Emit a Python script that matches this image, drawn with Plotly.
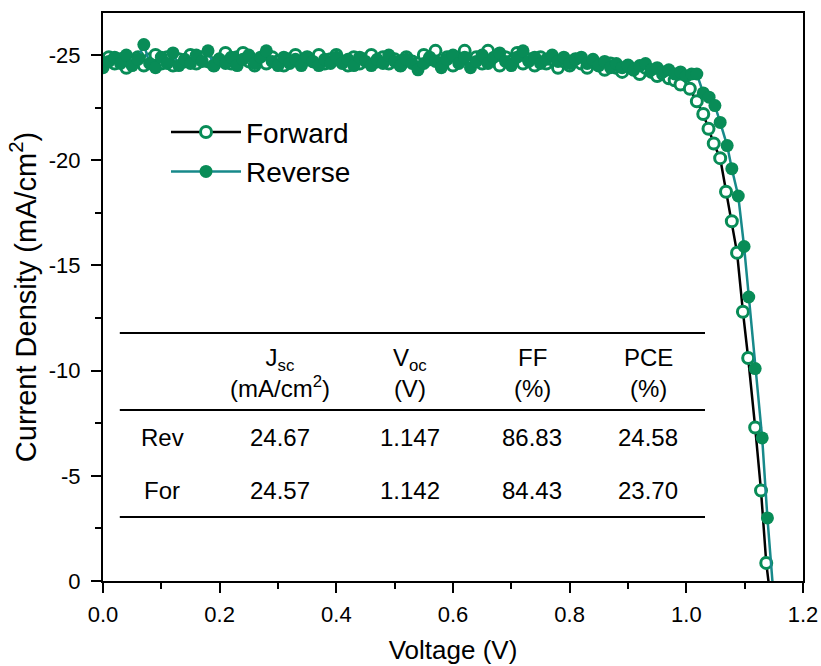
import plotly.graph_objects as go

# ---------------- data ----------------
fwd_v = [0.00, 0.01, 0.02, 0.03, 0.04, 0.05, 0.06, 0.07, 0.08, 0.09,
         0.10, 0.11, 0.12, 0.13, 0.14, 0.15, 0.16, 0.17, 0.18, 0.19,
         0.20, 0.21, 0.22, 0.23, 0.24, 0.25, 0.26, 0.27, 0.28, 0.29,
         0.30, 0.31, 0.32, 0.33, 0.34, 0.35, 0.36, 0.37, 0.38, 0.39,
         0.40, 0.41, 0.42, 0.43, 0.44, 0.45, 0.46, 0.47, 0.48, 0.49,
         0.50, 0.51, 0.52, 0.53, 0.54, 0.55, 0.56, 0.57, 0.58, 0.59,
         0.60, 0.61, 0.62, 0.63, 0.64, 0.65, 0.66, 0.67, 0.68, 0.69,
         0.70, 0.71, 0.72, 0.73, 0.74, 0.75, 0.76, 0.77, 0.78, 0.79,
         0.80, 0.81, 0.82, 0.83, 0.84, 0.85, 0.86, 0.87, 0.88, 0.89,
         0.90, 0.91, 0.92, 0.93, 0.94, 0.95, 0.96, 0.97, 0.98, 0.99,
         1.006, 1.018, 1.029, 1.038, 1.047, 1.058, 1.068, 1.078, 1.087, 1.097,
         1.106, 1.118, 1.128, 1.137, 1.146]
fwd_j = [-24.5, -24.9, -24.6, -24.8, -24.4, -24.7, -24.9, -24.5, -24.8, -25.0,
         -24.6, -24.9, -24.5, -24.8, -24.7, -25.0, -24.6, -24.9, -24.7, -24.5,
         -24.8, -25.1, -24.6, -24.9, -25.1, -24.7, -24.5, -24.8, -24.6, -24.9,
         -24.7, -24.5, -24.8, -25.0, -24.6, -24.9, -24.7, -25.0, -24.6, -24.8,
         -25.0, -24.7, -24.5, -24.9, -24.6, -24.8, -25.0, -24.7, -24.9, -24.6,
         -24.8, -24.5, -24.9, -24.7, -24.6, -25.0, -24.8, -25.2, -24.6, -24.9,
         -24.5, -24.8, -25.2, -24.7, -24.9, -24.6, -25.2, -24.8, -24.5, -24.9,
         -24.7, -25.1, -24.6, -24.8, -24.5, -24.9, -24.6, -24.8, -24.4, -24.7,
         -24.5, -24.8, -24.6, -24.4, -24.7, -24.5, -24.3, -24.6, -24.4, -24.2,
         -24.5, -24.3, -24.1, -24.4, -24.2, -24.0, -24.1, -23.9, -23.8, -23.6,
         -23.4, -22.8, -22.2, -21.5, -20.8, -20.1, -18.5, -17.1, -15.6, -12.8,
         -10.6, -7.3, -4.3, -0.86, 1.2]

rev_v = [0.00, 0.01, 0.02, 0.03, 0.04, 0.05, 0.06, 0.07, 0.08, 0.09,
         0.10, 0.11, 0.12, 0.13, 0.14, 0.15, 0.16, 0.17, 0.18, 0.19,
         0.20, 0.21, 0.22, 0.23, 0.24, 0.25, 0.26, 0.27, 0.28, 0.29,
         0.30, 0.31, 0.32, 0.33, 0.34, 0.35, 0.36, 0.37, 0.38, 0.39,
         0.40, 0.41, 0.42, 0.43, 0.44, 0.45, 0.46, 0.47, 0.48, 0.49,
         0.50, 0.51, 0.52, 0.53, 0.54, 0.55, 0.56, 0.57, 0.58, 0.59,
         0.60, 0.61, 0.62, 0.63, 0.64, 0.65, 0.66, 0.67, 0.68, 0.69,
         0.70, 0.71, 0.72, 0.73, 0.74, 0.75, 0.76, 0.77, 0.78, 0.79,
         0.80, 0.81, 0.82, 0.83, 0.84, 0.85, 0.86, 0.87, 0.88, 0.89,
         0.90, 0.91, 0.92, 0.93, 0.94, 0.95, 0.96, 0.97, 0.98, 0.99,
         1.000, 1.009, 1.018, 1.029, 1.039, 1.049, 1.058, 1.070, 1.078, 1.089,
         1.099, 1.107, 1.118, 1.130, 1.139, 1.151]
rev_j = [-24.4, -24.7, -24.9, -24.6, -25.0, -24.5, -24.8, -25.5, -24.6, -24.4,
         -24.9, -24.6, -25.1, -24.5, -24.8, -24.6, -25.0, -24.7, -25.2, -24.5,
         -24.8, -24.6, -24.9, -24.5, -24.8, -25.0, -24.6, -24.9, -25.2, -24.7,
         -24.5, -24.9, -24.6, -24.8, -24.5, -24.9, -24.7, -24.5, -24.8, -24.6,
         -24.9, -24.6, -24.8, -24.5, -24.9, -24.7, -24.5, -24.8, -24.6, -25.0,
         -24.7, -24.5, -24.8, -24.6, -24.3, -24.6, -24.9, -24.7, -24.4, -24.8,
         -25.0, -24.6, -24.9, -24.4, -24.7, -25.0, -24.6, -24.9, -25.1, -24.7,
         -24.5, -24.9, -25.2, -24.7, -24.9, -24.6, -24.8, -25.0, -24.7, -24.9,
         -24.6, -24.8, -24.9, -24.6, -24.8, -24.5, -24.7, -24.4, -24.6, -24.4,
         -24.5, -24.3, -24.5, -24.6, -24.3, -24.4, -24.2, -24.3, -24.1, -24.2,
         -24.0, -24.1, -24.1, -23.2, -23.0, -22.6, -21.8, -20.7, -19.6, -18.3,
         -15.9, -13.5, -10.1, -6.8, -3.0, 1.2]

x_ticks = [0.0, 0.2, 0.4, 0.6, 0.8, 1.0, 1.2]
x_ticklabels = ["0.0", "0.2", "0.4", "0.6", "0.8", "1.0", "1.2"]
y_ticks = [-25, -20, -15, -10, -5, 0]
y_ticklabels = ["-25", "-20", "-15", "-10", "-5", "0"]

table_cols = ["", "J<sub>sc</sub><br>(mA/cm<sup>2</sup>)", "V<sub>oc</sub><br>(V)", "FF<br>(%)", "PCE<br>(%)"]
table_rows = [["Rev", "24.67", "1.147", "86.83", "24.58"],
              ["For", "24.57", "1.142", "84.43", "23.70"]]

# ---------------- styling ----------------
GREEN = "#088c57"
TEAL = "#17898a"
FONT = "Liberation Sans, Arial, sans-serif"

fig = go.Figure()
fig.add_trace(go.Scatter(
    x=fwd_v, y=fwd_j, mode="lines+markers", name="Forward",
    line=dict(color="black", width=2.5),
    marker=dict(symbol="circle", size=11, color="white",
                line=dict(color=GREEN, width=3)),
))
fig.add_trace(go.Scatter(
    x=rev_v, y=rev_j, mode="lines+markers", name="Reverse",
    line=dict(color=TEAL, width=2.5),
    marker=dict(symbol="circle", size=13, color=GREEN,
                line=dict(color=GREEN, width=0)),
))

axis_common = dict(
    showgrid=False, zeroline=False, showline=True, linecolor="black",
    linewidth=2, mirror=True, ticks="outside", ticklen=10, tickwidth=2,
    tickcolor="black", tickfont=dict(family=FONT, size=22, color="black"),
    automargin=False,
)
fig.update_xaxes(
    range=[0, 1.2], tickvals=x_ticks, ticktext=x_ticklabels,
    ticklabelstandoff=3,
    minor=dict(ticks="outside", dtick=0.1, ticklen=6, tickwidth=2, tickcolor="black", showgrid=False),
    title=dict(text="Voltage (V)", font=dict(family=FONT, size=26, color="black"), standoff=14),
    **axis_common,
)
fig.update_yaxes(
    range=[0, -27], tickvals=y_ticks, ticktext=y_ticklabels,
    ticklabelstandoff=6,
    minor=dict(ticks="outside", dtick=2.5, ticklen=6, tickwidth=2, tickcolor="black", showgrid=False),
    title=dict(text="Current Density (mA/cm<sup>2</sup>)", font=dict(family=FONT, size=29, color="black"), standoff=4),
    **axis_common,
)

# table lines
for yy in [0.4366, 0.301, 0.1127]:
    fig.add_shape(type="line", xref="paper", yref="paper", x0=0.024, x1=0.86, y0=yy, y1=yy,
                  line=dict(color="black", width=2))

col_x = [0.0843, 0.253, 0.4386, 0.6129, 0.7786]
header_y = 0.366
row_y = [0.2518, 0.1585]
tfont = dict(family=FONT, size=24, color="black")
for cx, txt in zip(col_x, table_cols):
    if txt:
        fig.add_annotation(x=cx, y=header_y, xref="paper", yref="paper", text=txt,
                           xanchor="center", yanchor="middle",
                           showarrow=False, font=tfont, align="center")
for ry, row in zip(row_y, table_rows):
    for cx, txt in zip(col_x, row):
        fig.add_annotation(x=cx, y=ry, xref="paper", yref="paper", text=txt,
                           xanchor="center", yanchor="middle",
                           showarrow=False, font=tfont, align="center")

fig.update_layout(
    width=821, height=666,
    margin=dict(l=103, r=18, t=13, b=85),
    plot_bgcolor="white", paper_bgcolor="white",
    font=dict(family=FONT, color="black"),
    showlegend=True,
    legend=dict(x=0.09, y=0.834, xanchor="left", yanchor="top",
                bgcolor="rgba(0,0,0,0)", font=dict(family=FONT, size=28, color="black"),
                itemwidth=70, tracegroupgap=0),
)

fig.write_html("out.html")
